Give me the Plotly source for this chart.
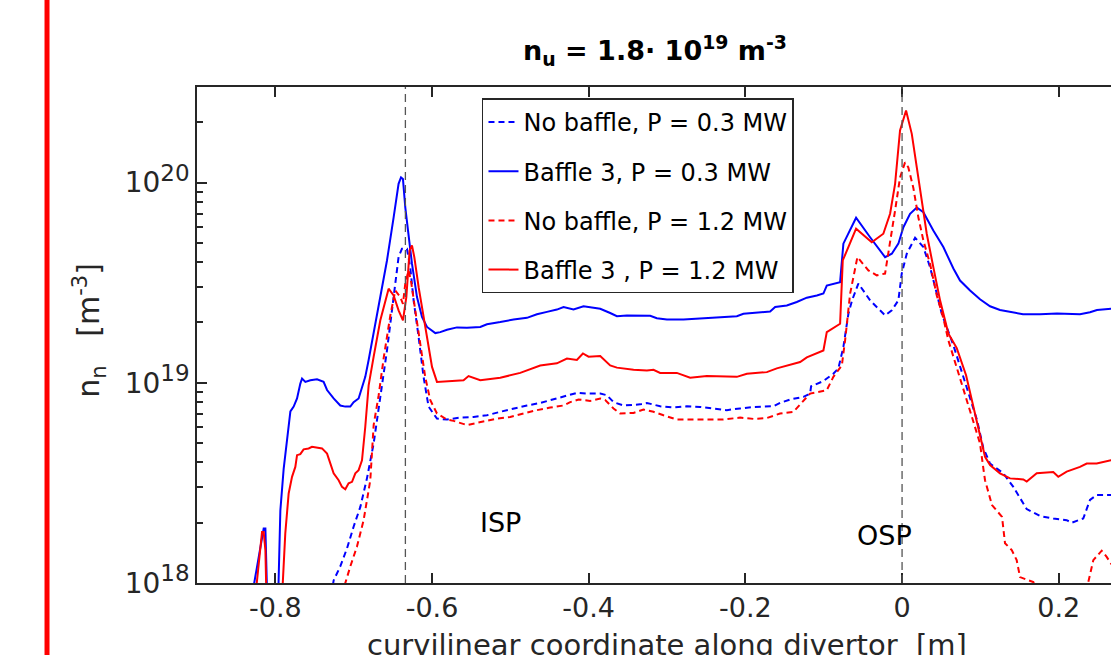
import math
import plotly.graph_objects as go

# ---------------- data ----------------
# Baffle 3, P = 0.3 MW (blue solid)
x_b3_03 = [-0.829, -0.8149, -0.8127, -0.8106, -0.7962, -0.7936, -0.7894, -0.7851, -0.7808, -0.7766,
           -0.7723, -0.7681, -0.7659, -0.7617, -0.7553, -0.7468, -0.7384, -0.7340, -0.7256, -0.7171,
           -0.7107, -0.7043, -0.7001, -0.6937, -0.6894, -0.6852, -0.6809, -0.6723, -0.6660, -0.6575,
           -0.6490, -0.6427, -0.6396, -0.6371, -0.6341, -0.6299, -0.6256, -0.6192, -0.6128, -0.6064,
           -0.5958, -0.5895, -0.5809, -0.5682, -0.5554, -0.5384, -0.5299, -0.5129, -0.4959, -0.4788,
           -0.4661, -0.4533, -0.4406, -0.4321, -0.4194, -0.4066, -0.3939, -0.3853, -0.3726, -0.3640,
           -0.3513, -0.3215, -0.3130, -0.3002, -0.2790, -0.2577, -0.2364, -0.2109, -0.2025, -0.1812,
           -0.1684, -0.1620, -0.1471, -0.1344, -0.1216, -0.1088, -0.1004, -0.0961, -0.0791, -0.0749,
           -0.0587, -0.0408, -0.0217, -0.0131, -0.0047, 0.0017, 0.0102, 0.0188, 0.0272, 0.0399,
           0.0527, 0.0655, 0.0740, 0.0868, 0.0995, 0.1123, 0.1250, 0.1544, 0.1761, 0.1978,
           0.2271, 0.2399, 0.2488, 0.2667, 0.275]
y_b3_03 = [9e17, 1.87e18, 1.87e18, 9e17, 9e17, 2.3e18, 3.7e18, 5.0e18, 7.2e18, 7.6e18,
           8.35e18, 9.9e18, 1.05e19, 1.01e19, 1.03e19, 1.04e19, 1.01e19, 9.2e18, 8.35e18, 7.7e18,
           7.6e18, 7.6e18, 8.0e18, 8.35e18, 9.5e18, 1.07e19, 1.3e19, 1.97e19, 2.68e19, 4.08e19,
           6.7e19, 9.85e19, 1.06e20, 1.04e20, 7.5e19, 5.33e19, 3.93e19, 2.68e19, 2.13e19, 1.9e19,
           1.77e19, 1.79e19, 1.84e19, 1.89e19, 1.88e19, 1.9e19, 1.96e19, 2.01e19, 2.07e19, 2.11e19,
           2.2e19, 2.26e19, 2.32e19, 2.39e19, 2.32e19, 2.41e19, 2.37e19, 2.34e19, 2.23e19, 2.15e19,
           2.17e19, 2.16e19, 2.1e19, 2.07e19, 2.07e19, 2.1e19, 2.13e19, 2.15e19, 2.21e19, 2.24e19,
           2.27e19, 2.39e19, 2.43e19, 2.53e19, 2.66e19, 2.73e19, 2.79e19, 3.06e19, 3.18e19, 4.95e19,
           6.67e19, 5.33e19, 4.24e19, 4.41e19, 4.95e19, 5.98e19, 6.98e19, 7.5e19, 7.1e19, 5.76e19,
           4.76e19, 3.72e19, 3.24e19, 2.89e19, 2.61e19, 2.41e19, 2.31e19, 2.2e19, 2.2e19, 2.22e19,
           2.2e19, 2.25e19, 2.31e19, 2.34e19, 2.35e19]

# Baffle 3, P = 1.2 MW (red solid)
x_b3_12 = [-0.8249, -0.8170, -0.8149, -0.8127, -0.8115, -0.7911, -0.7873, -0.7830, -0.7787, -0.7745,
           -0.7723, -0.7681, -0.7639, -0.7575, -0.7532, -0.7468, -0.7404, -0.7340, -0.7298, -0.7256,
           -0.7192, -0.7149, -0.7107, -0.7065, -0.7021, -0.6979, -0.6937, -0.6894, -0.6852, -0.6830,
           -0.6809, -0.6745, -0.6660, -0.6554, -0.6490, -0.6427, -0.6371, -0.6328, -0.6286, -0.6256,
           -0.6226, -0.6171, -0.6108, -0.6044, -0.6000, -0.5937, -0.5809, -0.5767, -0.5597, -0.5534,
           -0.5384, -0.5129, -0.4874, -0.4619, -0.4406, -0.4278, -0.4151, -0.4074, -0.4002, -0.3853,
           -0.3726, -0.3640, -0.3427, -0.3257, -0.3173, -0.3088, -0.2875, -0.2705, -0.2492, -0.2109,
           -0.1981, -0.1726, -0.1599, -0.1301, -0.1216, -0.1004, -0.0961, -0.0791, -0.0757, -0.0587,
           -0.0387, -0.0239, -0.0153, -0.0089, -0.0026, 0.0051, 0.0124, 0.0188, 0.0251, 0.0315,
           0.0399, 0.0485, 0.0591, 0.0698, 0.0817, 0.0910, 0.0995, 0.1059, 0.1123, 0.1250,
           0.1378, 0.1548, 0.1591, 0.1719, 0.1930, 0.1994, 0.2101, 0.2271, 0.2357, 0.2484,
           0.2667, 0.275]
y_b3_12 = [9e17, 1.8e18, 1.8e18, 1.46e18, 9e17, 9e17, 1.77e18, 2.8e18, 3.39e18, 3.8e18,
           4.35e18, 4.4e18, 4.65e18, 4.7e18, 4.79e18, 4.76e18, 4.7e18, 4.43e18, 3.95e18, 3.53e18,
           3.26e18, 3.02e18, 2.94e18, 3.15e18, 3.2e18, 3.53e18, 3.66e18, 4.1e18, 6.03e18, 7.6e18,
           9.7e18, 1.35e19, 2.05e19, 2.95e19, 2.73e19, 2.3e19, 2.05e19, 2.68e19, 4.58e19, 4.85e19,
           4.24e19, 3.0e19, 2.13e19, 1.51e19, 1.2e19, 1.01e19, 1.02e19, 1.02e19, 1.03e19, 1.08e19,
           1.03e19, 1.06e19, 1.12e19, 1.22e19, 1.25e19, 1.32e19, 1.3e19, 1.4e19, 1.35e19, 1.36e19,
           1.22e19, 1.19e19, 1.16e19, 1.15e19, 1.16e19, 1.12e19, 1.12e19, 1.06e19, 1.08e19, 1.07e19,
           1.11e19, 1.13e19, 1.18e19, 1.27e19, 1.34e19, 1.45e19, 1.79e19, 1.97e19, 4.08e19, 5.88e19,
           5.03e19, 5.55e19, 6.98e19, 9.85e19, 1.82e20, 2.29e20, 1.75e20, 1.19e20, 8.1e19, 5.55e19,
           3.78e19, 2.58e19, 1.76e19, 1.49e19, 1.09e19, 7.6e18, 5.47e18, 4.27e18, 3.88e18, 3.53e18,
           3.33e18, 3.29e18, 3.21e18, 3.53e18, 3.58e18, 3.39e18, 3.6e18, 3.8e18, 3.95e18, 3.95e18,
           4.1e18, 4.15e18]

# No baffle, P = 0.3 MW (blue dashed)
x_nb_03 = [-0.7285, -0.7256, -0.7171, -0.7085, -0.7001, -0.6915, -0.6830, -0.6745, -0.6660, -0.6575,
           -0.6490, -0.6427, -0.6384, -0.6320, -0.6278, -0.6235, -0.6171, -0.6108, -0.6044, -0.5937,
           -0.5809, -0.5640, -0.5470, -0.5299, -0.5129, -0.4959, -0.4788, -0.4619, -0.4406, -0.4236,
           -0.4151, -0.4023, -0.3853, -0.3768, -0.3683, -0.3556, -0.3343, -0.3257, -0.3088, -0.2918,
           -0.2747, -0.2577, -0.2408, -0.2237, -0.2067, -0.1897, -0.1642, -0.1557, -0.1429, -0.1259,
           -0.1174, -0.1161, -0.1004, -0.0877, -0.0813, -0.0749, -0.0685, -0.0638, -0.0558, -0.0408,
           -0.0217, -0.0131, -0.0047, -0.0004, 0.0060, 0.0166, 0.0272, 0.0357, 0.0443, 0.0507,
           0.0655, 0.0826, 0.0957, 0.1037, 0.1123, 0.1293, 0.1420, 0.1591, 0.1761, 0.1930,
           0.2101, 0.2165, 0.2313, 0.2399, 0.2484, 0.2667, 0.275]
y_nb_03 = [8.7e17, 1.03e18, 1.21e18, 1.49e18, 1.91e18, 2.4e18, 3.34e18, 4.98e18, 8.5e18, 1.45e19,
           2.68e19, 4.24e19, 4.67e19, 4.67e19, 3.78e19, 2.58e19, 1.69e19, 1.07e19, 7.6e18, 6.62e18,
           6.55e18, 6.7e18, 6.75e18, 6.88e18, 7.16e18, 7.44e18, 7.7e18, 7.93e18, 8.35e18, 8.67e18,
           8.9e18, 8.83e18, 8.83e18, 8.67e18, 8.0e18, 7.7e18, 7.8e18, 7.93e18, 7.63e18, 7.52e18,
           7.63e18, 7.57e18, 7.44e18, 7.3e18, 7.44e18, 7.57e18, 7.63e18, 7.93e18, 8.25e18, 8.5e18,
           8.83e18, 9.6e18, 1.02e19, 1.11e19, 1.18e19, 1.51e19, 2.21e19, 2.58e19, 3.13e19, 2.58e19,
           2.17e19, 2.3e19, 2.58e19, 3.51e19, 4.41e19, 5.3e19, 4.76e19, 3.78e19, 2.79e19, 2.21e19,
           1.54e19, 9.4e18, 6.5e18, 4.72e18, 3.95e18, 3.53e18, 3.02e18, 2.34e18, 2.16e18, 2.1e18,
           2.06e18, 2.0e18, 2.1e18, 2.6e18, 2.75e18, 2.75e18, 2.75e18]

# No baffle, P = 1.2 MW (red dashed)
x_nb_12 = [-0.7132, -0.7107, -0.7043, -0.6958, -0.6873, -0.6830, -0.6788, -0.6745, -0.6681, -0.6617,
           -0.6532, -0.6469, -0.6405, -0.6371, -0.6341, -0.6299, -0.6269, -0.6214, -0.6150, -0.6087,
           -0.6023, -0.5937, -0.5809, -0.5725, -0.5554, -0.5342, -0.5171, -0.5002, -0.4832, -0.4661,
           -0.4491, -0.4321, -0.4236, -0.4130, -0.3981, -0.3853, -0.3789, -0.3683, -0.3598, -0.3428,
           -0.3301, -0.3173, -0.3045, -0.2875, -0.2705, -0.2492, -0.2280, -0.2067, -0.1897, -0.1726,
           -0.1557, -0.1387, -0.1174, -0.0961, -0.0877, -0.0769, -0.0727, -0.0663, -0.0570, -0.0430,
           -0.0323, -0.0217, -0.0153, -0.0089, -0.0026, 0.0038, 0.0080, 0.0144, 0.0208, 0.0272,
           0.0357, 0.0443, 0.0527, 0.0591, 0.0655, 0.0740, 0.0826, 0.0919, 0.0995, 0.1037,
           0.1059, 0.1148, 0.1276, 0.1314, 0.1400, 0.1463, 0.1506, 0.1676, 0.1719, 0.2016,
           0.2361, 0.2377, 0.2441, 0.2548, 0.2612, 0.2667, 0.275]
y_nb_12 = [8.7e17, 1.0e18, 1.21e18, 1.52e18, 2.06e18, 2.6e18, 3.26e18, 6.15e18, 8.67e18, 1.33e19,
           2.17e19, 2.89e19, 2.68e19, 2.48e19, 3.13e19, 3.64e19, 3.24e19, 2.3e19, 1.57e19, 1.07e19,
           8.2e18, 7.02e18, 6.55e18, 6.45e18, 6.15e18, 6.38e18, 6.62e18, 6.75e18, 7.02e18, 7.3e18,
           7.52e18, 7.7e18, 8.0e18, 8.25e18, 8.12e18, 8.35e18, 8.2e18, 7.44e18, 7.02e18, 7.07e18,
           7.35e18, 7.16e18, 6.88e18, 6.55e18, 6.55e18, 6.55e18, 6.55e18, 6.7e18, 6.6e18, 6.67e18,
           7.02e18, 7.16e18, 8.83e18, 9.18e18, 1.07e19, 1.22e19, 1.63e19, 2.79e19, 4.24e19, 3.64e19,
           3.44e19, 3.51e19, 4.95e19, 7.25e19, 1.06e20, 1.26e20, 1.19e20, 9.4e19, 6.7e19, 5.13e19,
           3.93e19, 2.73e19, 2.1e19, 1.63e19, 1.35e19, 1.05e19, 8.2e18, 6.3e18, 4.98e18, 3.75e18,
           3.26e18, 2.45e18, 2.14e18, 1.58e18, 1.46e18, 1.3e18, 1.07e18, 1.01e18, 9e17, 8e17,
           9e17, 1.01e18, 1.3e18, 1.45e18, 1.35e18, 1.25e18, 1.15e18]

strike_x = [-0.634, 0.0]
strike_labels = ["ISP", "OSP"]
strike_label_x = [-0.513, -0.023]
strike_label_y = [2.0e18, 1.73e18]

legend_names = ["No baffle, P = 0.3 MW", "Baffle 3, P = 0.3 MW",
                "No baffle, P = 1.2 MW", "Baffle 3 , P = 1.2 MW"]

x_ticks = [-0.8, -0.6, -0.4, -0.2, 0, 0.2]
x_tick_text = ["-0.8", "-0.6", "-0.4", "-0.2", "0", "0.2"]
y_ticks = [1e18, 1e19, 1e20]
y_exponents = ["18", "19", "20"]
y_minor_ticks = [m * 10.0 ** e for e in (18, 19, 20) for m in range(2, 10)]

# ---------------- figure ----------------
BLUE = "#0000FF"
RED = "#FF0000"
AX = "#262626"
FONT = "DejaVu Sans"

y_tick_text = ["10<sup><span style='font-size:23px'>%s</span></sup>" % e for e in y_exponents]

series = [
    (x_nb_03, y_nb_03, BLUE, "6px,4px", legend_names[0]),
    (x_b3_03, y_b3_03, BLUE, "solid", legend_names[1]),
    (x_nb_12, y_nb_12, RED, "6px,4px", legend_names[2]),
    (x_b3_12, y_b3_12, RED, "solid", legend_names[3]),
]

fig = go.Figure()
for i, (xs, ys, col, dash, name) in enumerate(series):
    fig.add_trace(go.Scatter(x=xs, y=ys, mode="lines", name=name,
                             legendgroup=f"g{i}",
                             line=dict(color=col, width=2, dash=dash)))

for sx in strike_x:
    fig.add_shape(type="line", xref="x", yref="paper", x0=sx, x1=sx, y0=0, y1=1,
                  line=dict(color="#555555", width=1.3, dash="8px,5px"))

for lab, lx, ly in zip(strike_labels, strike_label_x, strike_label_y):
    fig.add_annotation(x=lx, y=math.log10(ly), xref="x", yref="y", text=lab,
                       showarrow=False, font=dict(family=FONT, size=27, color="#000000"))

# red vertical bar on the far left
fig.add_shape(type="line", xref="paper", yref="paper", x0=-0.1641, x1=-0.1641, y0=-0.3, y1=1.3,
              line=dict(color="#FF0000", width=5))

fig.add_annotation(xref="paper", yref="paper", x=0.501, y=1.074, yanchor="middle",
                   text="<b>n<sub>u</sub> = 1.8· 10<sup>19</sup> m<sup>-3</sup></b>",
                   showarrow=False, font=dict(family=FONT, size=27, color="#000000"))
fig.add_annotation(xref="paper", yref="paper", x=0.514, y=-0.125, yanchor="middle",
                   text="curvilinear coordinate along divertor  [m]",
                   showarrow=False, font=dict(family=FONT, size=29, color=AX))
fig.add_annotation(xref="paper", yref="paper", x=-0.118, y=0.509, xanchor="center", yanchor="middle",
                   text="n<sub>n</sub>   [m<sup>-3</sup>]", textangle=-90,
                   showarrow=False, font=dict(family=FONT, size=30, color=AX))

fig.update_layout(
    width=1111, height=655,
    margin=dict(l=197, r=0, t=87, b=72),
    paper_bgcolor="white", plot_bgcolor="white",
    showlegend=True,
    legend=dict(x=0.3118, y=0.977, xanchor="left", yanchor="top",
                bgcolor="white", bordercolor=AX, borderwidth=1.5,
                font=dict(family=FONT, size=24, color="#000000"),
                traceorder="grouped", tracegroupgap=15, itemwidth=30),
    xaxis=dict(range=[-0.9, 0.2667], tickvals=x_ticks, ticktext=x_tick_text,
               ticks="inside", ticklen=10, tickwidth=1.5, tickcolor=AX,
               showline=True, linecolor=AX, linewidth=1.5, mirror="ticks",
               showgrid=False, zeroline=False,
               tickfont=dict(family=FONT, size=27, color=AX)),
    yaxis=dict(type="log", range=[18, 20.477],
               tickvals=y_ticks, ticktext=y_tick_text,
               ticks="inside", ticklen=10, tickwidth=1.5, tickcolor=AX,
               minor=dict(tickmode="array", tickvals=y_minor_ticks, ticks="inside",
                          ticklen=6, tickwidth=1.5, tickcolor=AX, showgrid=False),
               showline=True, linecolor=AX, linewidth=1.5, mirror=False,
               showgrid=False, zeroline=False,
               tickfont=dict(family=FONT, size=28, color=AX)),
)

fig.write_html("out.html", config={"displayModeBar": False},
               post_script="document.body.style.margin='0';document.body.style.overflow='hidden';")
